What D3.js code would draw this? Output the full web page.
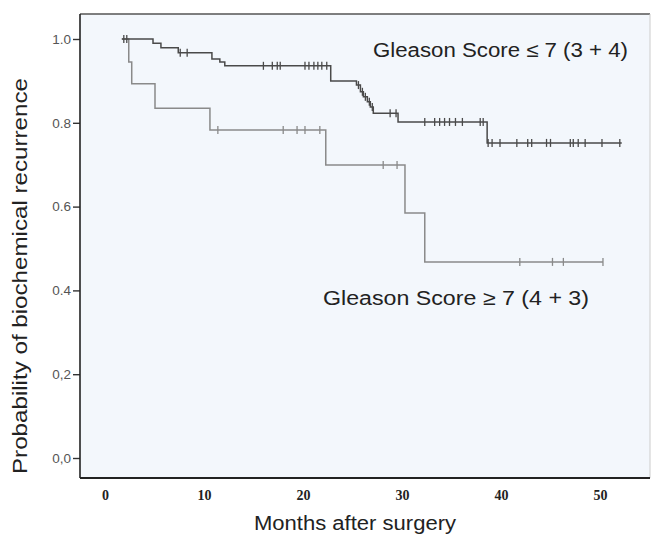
<!DOCTYPE html>
<html>
<head>
<meta charset="utf-8">
<script src="https://cdn.jsdelivr.net/npm/d3@7"></script>
<style>
  body { margin: 0; background: #fff; }
  svg { display: block; }
</style>
</head>
<body>
<div id="chart"></div>
<script>
// step points [months, probability]
var lowGrade = [
    [1.7, 1.0], [4.85, 0.99], [5.65, 0.979], [7.4, 0.967], [10.8, 0.952],
    [11.6, 0.945], [12.1, 0.936], [22.8, 0.900], [25.4, 0.890], [25.8, 0.874],
    [26.1, 0.862], [26.5, 0.850], [26.8, 0.838], [27.1, 0.823], [29.6, 0.802],
    [38.6, 0.752], [52.2, 0.752]
];
var lowGradeCensored = [1.9, 2.2, 7.6, 8.3, 16.0, 16.9, 17.4, 17.7, 20.2, 20.6, 21.1, 21.5,
    21.9, 22.4, 25.6, 26.0, 26.3, 26.7, 27.0, 28.8, 29.4, 32.3, 33.3, 33.8, 34.3, 34.8,
    35.4, 36.1, 37.9, 38.2, 38.7, 39.1, 39.9, 41.6, 42.7, 43.1, 44.6, 45.0, 47.0, 47.3,
    47.8, 48.5, 50.2, 52.0];

var highGrade = [
    [1.7, 1.0], [2.4, 0.945], [2.7, 0.893], [5.05, 0.835], [10.6, 0.783],
    [22.3, 0.699], [30.3, 0.585], [32.3, 0.468], [50.3, 0.468]
];
var highGradeCensored = [11.4, 18.0, 19.4, 20.2, 21.7, 28.1, 29.5, 41.9, 45.2, 46.3, 50.3];

var xTicks = [0, 10, 20, 30, 40, 50];
var yTicks = [0, 0.2, 0.4, 0.6, 0.8, 1.0];
var yTickLabels = ["0,0", "0,2", "0.4", "0.6", "0.8", "1.0"];

var width = 653, height = 535;
var frame = {left: 80, top: 14, right: 650, bottom: 478};

var svg = d3.select("#chart").append("svg")
    .attr("width", width)
    .attr("height", height);

var x = d3.scaleLinear().domain([0, 50]).range([105, 600]);
var y = d3.scaleLinear().domain([0, 1]).range([458, 39]);

// plot background + frame
svg.append("rect")
    .attr("x", frame.left).attr("y", frame.top)
    .attr("width", frame.right - frame.left)
    .attr("height", frame.bottom - frame.top)
    .attr("fill", "#f3f7fc");
svg.append("line")
    .attr("x1", frame.left).attr("x2", frame.right)
    .attr("y1", frame.top).attr("y2", frame.top)
    .attr("stroke", "#555").attr("stroke-width", 1.6);
svg.append("line")
    .attr("x1", frame.right).attr("x2", frame.right)
    .attr("y1", frame.top).attr("y2", frame.bottom)
    .attr("stroke", "#ccc").attr("stroke-width", 1);

// y axis
var yAxis = svg.append("g")
    .attr("transform", "translate(" + frame.left + ",0)")
    .call(d3.axisLeft(y).tickValues(yTicks).tickSize(7).tickPadding(2)
        .tickFormat(function (d, i) { return yTickLabels[i]; }));
yAxis.select(".domain").remove();
yAxis.selectAll(".tick line").attr("stroke", "#333").attr("stroke-width", 1.4);
yAxis.selectAll(".tick text")
    .attr("font-family", "Liberation Sans, Arial, sans-serif")
    .attr("font-size", 13.5).attr("fill", "#555");
svg.append("line")
    .attr("x1", frame.left).attr("x2", frame.left)
    .attr("y1", frame.top).attr("y2", frame.bottom)
    .attr("stroke", "#222").attr("stroke-width", 1.6);

// x axis
var xAxis = svg.append("g")
    .attr("transform", "translate(0," + frame.bottom + ")")
    .call(d3.axisBottom(x).tickValues(xTicks).tickSize(0).tickPadding(12));
xAxis.select(".domain").remove();
xAxis.selectAll(".tick text")
    .attr("font-family", "Liberation Serif, Times New Roman, serif")
    .attr("font-weight", "bold")
    .attr("font-size", 14).attr("fill", "#222");
svg.append("line")
    .attr("x1", frame.left).attr("x2", frame.right)
    .attr("y1", frame.bottom).attr("y2", frame.bottom)
    .attr("stroke", "#222").attr("stroke-width", 1.8);

// axis titles
svg.append("text")
    .attr("x", 254).attr("y", 530)
    .attr("font-family", "Liberation Sans, Arial, sans-serif")
    .attr("font-size", 20).attr("fill", "#222")
    .attr("textLength", 202).attr("lengthAdjust", "spacingAndGlyphs")
    .text("Months after surgery");
svg.append("text")
    .attr("transform", "translate(27,474) rotate(-90)")
    .attr("font-family", "Liberation Sans, Arial, sans-serif")
    .attr("font-size", 20).attr("fill", "#222")
    .attr("textLength", 396).attr("lengthAdjust", "spacingAndGlyphs")
    .text("Probability of biochemical recurrence");

// curves
var line = d3.line()
    .x(function (d) { return x(d[0]); })
    .y(function (d) { return y(d[1]); })
    .curve(d3.curveStepAfter);

function survivalAt(points, t) {
    var s = points[0][1];
    points.forEach(function (p) { if (p[0] <= t) s = p[1]; });
    return s;
}

function drawCurve(points, censored, color) {
    svg.append("path")
        .datum(points)
        .attr("d", line)
        .attr("fill", "none")
        .attr("stroke", color)
        .attr("stroke-width", 1.5);
    svg.selectAll(null)
        .data(censored)
        .enter()
        .append("line")
        .attr("x1", function (d) { return x(d); })
        .attr("x2", function (d) { return x(d); })
        .attr("y1", function (d) { return y(survivalAt(points, d)) - 4; })
        .attr("y2", function (d) { return y(survivalAt(points, d)) + 4; })
        .attr("stroke", color)
        .attr("stroke-width", 1.3);
}

drawCurve(highGrade, highGradeCensored, "#8a8a8a");
drawCurve(lowGrade, lowGradeCensored, "#4a4a4a");

// labels
svg.append("text")
    .attr("x", 373).attr("y", 57)
    .attr("font-family", "Liberation Sans, Arial, sans-serif")
    .attr("font-size", 20).attr("fill", "#222")
    .attr("textLength", 255).attr("lengthAdjust", "spacingAndGlyphs")
    .text("Gleason Score \u2264 7 (3 + 4)");
svg.append("text")
    .attr("x", 323).attr("y", 305)
    .attr("font-family", "Liberation Sans, Arial, sans-serif")
    .attr("font-size", 20).attr("fill", "#222")
    .attr("textLength", 266).attr("lengthAdjust", "spacingAndGlyphs")
    .text("Gleason Score \u2265 7 (4 + 3)");
</script>
</body>
</html>
